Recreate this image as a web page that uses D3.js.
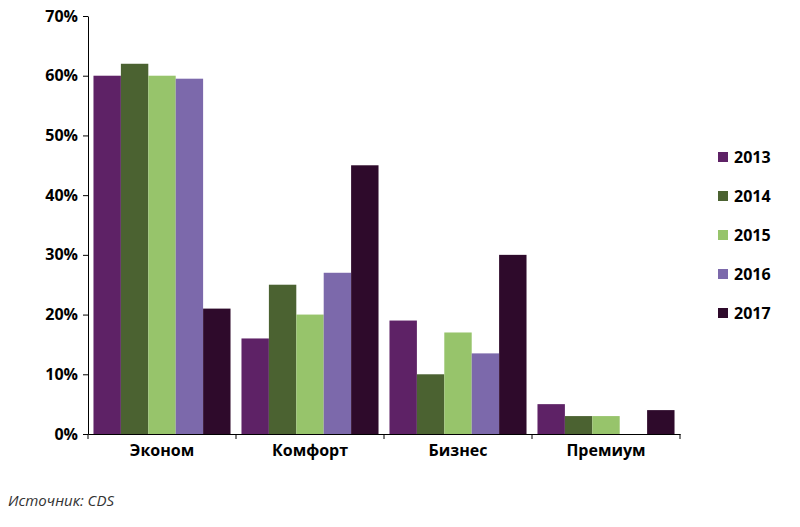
<!DOCTYPE html>
<html><head><meta charset="utf-8">
<script src="https://cdn.jsdelivr.net/npm/d3@7"></script>
<style>body{margin:0;background:#fff}text{font-family:"Open Sans",Arial,sans-serif}</style>
</head><body><svg id="c" width="800" height="527"></svg>
<script>
const categories=["Эконом","Комфорт","Бизнес","Премиум"];
const years=["2013","2014","2015","2016","2017"];
const colors=["#5e2266","#4b6231","#97c46b","#7c69ab","#2e0a2b"];
const values=[[60,62,60,59.5,21],[16,25,20,27,45],[19,10,17,13.5,30],[5,3,3,0,4]];
const yTicks=[0,10,20,30,40,50,60,70];
const svg=d3.select("#c");
const x=d3.scaleBand().domain(categories).range([88,680]);
const x1=d3.scaleBand().domain(years).range([0,x.bandwidth()]).paddingOuter(0.2);
const y=d3.scaleLinear().domain([0,70]).range([434,16]);
const g=svg.append("g");
categories.forEach((c,i)=>{
  g.selectAll(null).data(values[i]).enter().append("rect")
   .attr("x",(d,j)=>x(c)+x1(years[j])).attr("width",x1.bandwidth())
   .attr("y",d=>y(d)).attr("height",d=>y(0)-y(d)).attr("fill",(d,j)=>colors[j]);
});
const ya=svg.append("g").attr("transform","translate(88,0)")
 .call(d3.axisLeft(y).tickValues(yTicks).tickFormat(d=>d+"%").tickSize(5).tickSizeOuter(0));
ya.selectAll("text").attr("font-size",16).attr("font-weight","bold").attr("fill","#000").attr("dx","-2");
const xa=svg.append("g").attr("transform","translate(0,434)")
 .call(d3.axisBottom(x).tickSize(0).tickSizeOuter(0));
xa.selectAll("text").attr("font-size",16).attr("font-weight","bold").attr("fill","#000").attr("dy","1.2em");
xa.selectAll(".tick").append("line").attr("x1",-x.bandwidth()/2).attr("x2",-x.bandwidth()/2).attr("y2",5).attr("stroke","#000");
xa.append("line").attr("x1",680).attr("x2",680).attr("y2",5).attr("stroke","#000");
svg.selectAll(".domain").attr("stroke","#000");
const lg=svg.append("g");
years.forEach((yr,j)=>{
  const yy=157+j*39;
  lg.append("rect").attr("x",718).attr("y",yy-5).attr("width",10).attr("height",10).attr("fill",colors[j]);
  lg.append("text").attr("x",734).attr("y",yy+6).attr("font-size",16).attr("font-weight","bold").text(yr);
});
svg.append("text").attr("x",8).attr("y",506).attr("font-size",15).attr("font-style","italic").attr("fill","#333").text("Источник: CDS");
</script></body></html>
